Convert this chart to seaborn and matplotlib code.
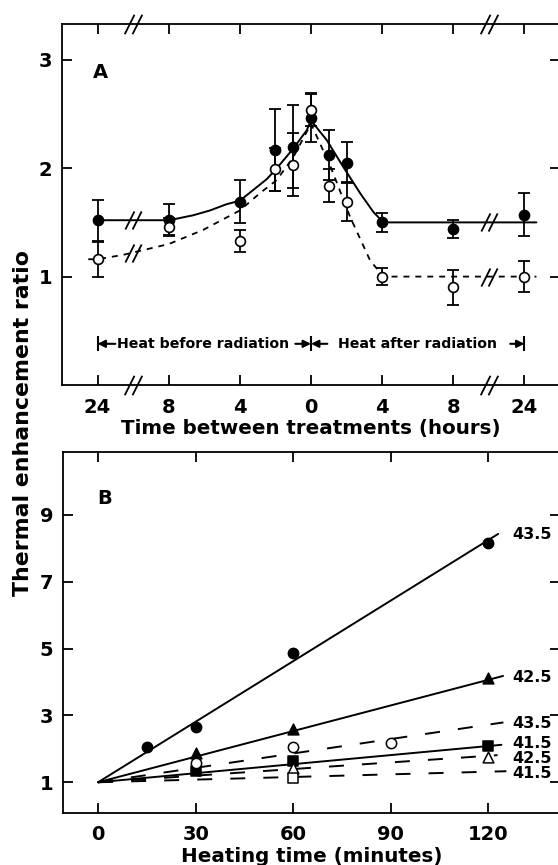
import matplotlib
matplotlib.use("Agg")
import matplotlib.pyplot as plt
from matplotlib.path import Path
import numpy as np
import seaborn as sns

# ---- panel A: thermal enhancement vs time between treatments ----
# negative hours = heat before radiation, positive = heat after
hours_a = [-24, -8, -4, -2, -1, 0, 1, 2, 4, 8, 24]
ter_closed = [1.52, 1.52, 1.69, 2.17, 2.20, 2.46, 2.12, 2.05, 1.50, 1.44, 1.57]
err_closed = [0.19, 0.15, 0.20, 0.38, 0.38, 0.22, 0.23, 0.19, 0.09, 0.08, 0.20]
ter_open = [1.16, 1.46, 1.33, 1.99, 2.03, 2.54, 1.84, 1.69, 1.00, 0.90, 1.00]
err_open = [0.16, 0.08, 0.10, 0.20, 0.29, 0.15, 0.15, 0.18, 0.08, 0.16, 0.14]

# hand-drawn fit curves
fit_solid_h = [-24.8, -8, -7.56, -6.64, -5.68, -4.76, -4, -3.24, -2.48, -1.92,
               -1.0, -0.24, 0, 0.88, 1.82, 2.76, 3.51, 4.07, 8, 24, 26.7]
fit_solid_y = [1.52, 1.52, 1.534, 1.565, 1.61, 1.667, 1.70, 1.80, 1.90, 2.00,
               2.18, 2.35, 2.44, 2.26, 2.01, 1.77, 1.595, 1.50, 1.50, 1.50, 1.50]
fit_dash_h = [-26.1, -24, -18.3, -8, -6.07, -4, -2.87, -1.93, -1.0, 0,
              1.11, 2.2, 3.32, 4.07, 8, 24, 26.7]
fit_dash_y = [1.16, 1.16, 1.20, 1.30, 1.43, 1.61, 1.77, 1.89, 2.10, 2.41,
              2.01, 1.55, 1.15, 1.00, 1.00, 1.00, 1.00]

tick_hours = [-24, -8, -4, 0, 4, 8, 24]
tick_labels_a = ["24", "8", "4", "0", "4", "8", "24"]

# ---- panel B: thermal enhancement vs heating time ----
b_series = [
    # label, x, y, marker, filled, dashed, line end x, line end y
    ("43.5", [15, 30, 60, 120], [2.04, 2.64, 4.88, 8.16], "o", True, False, 123.0, 8.43),
    ("42.5", [30, 60, 120], [1.87, 2.60, 4.13], "^", True, False, 124.5, 4.18),
    ("43.5", [30, 60, 90], [1.57, 2.06, 2.16], "o", False, True, 124.6, 2.79),
    ("41.5", [30, 60, 120], [1.34, 1.64, 2.08], "s", True, False, 124.0, 2.12),
    ("42.5", [60, 120], [1.42, 1.75], "^", False, True, 122.8, 1.81),
    ("41.5", [60], [1.12], "s", False, True, 125.5, 1.33),
]
b_label_y = [8.40, 4.13, 2.76, 2.16, 1.72, 1.27]


def hour_pos(h):
    # broken axis: 0-8 h linear (4 h per unit), 8-24 h squeezed into one unit
    h = np.asarray(h, dtype=float)
    a = np.abs(h)
    p = np.where(a <= 8, a / 4, 2 + (a - 8) / 16)
    return np.sign(h) * p


sns.set_style("ticks")
plt.rcParams["font.family"] = ["DejaVu Sans"]
plt.rcParams["font.weight"] = "bold"
plt.rcParams["axes.linewidth"] = 1.3
for key in ("text.color", "axes.labelcolor", "axes.edgecolor",
            "xtick.color", "ytick.color"):
    plt.rcParams[key] = "black"

fig = plt.figure(figsize=(5.58, 8.65), dpi=100)
ax_a = fig.add_axes([62 / 558, 1 - 385 / 865, 498 / 558, 361 / 865])
ax_b = fig.add_axes([63 / 558, 1 - 813 / 865, 497 / 558, 361 / 865])

brk = Path([(-0.9, -1), (0.1, 1), (-0.1, -1), (0.9, 1)],
           [Path.MOVETO, Path.LINETO, Path.MOVETO, Path.LINETO])

# panel A
xa = hour_pos(hours_a)
sns.lineplot(x=hour_pos(fit_solid_h), y=fit_solid_y, ax=ax_a, color="black",
             lw=1.4, sort=False, estimator=None, zorder=2)
sns.lineplot(x=hour_pos(fit_dash_h), y=fit_dash_y, ax=ax_a, color="black",
             lw=1.3, sort=False, estimator=None, linestyle=(0, (3.3, 3.3)), zorder=2)
ax_a.errorbar(xa, ter_closed, yerr=err_closed, fmt="none", ecolor="black",
              elinewidth=1.3, capsize=4.3, capthick=1.3, zorder=3)
ax_a.errorbar(xa, ter_open, yerr=err_open, fmt="none", ecolor="black",
              elinewidth=1.3, capsize=4.3, capthick=1.3, zorder=3)
sns.scatterplot(x=xa, y=ter_closed, ax=ax_a, marker="o", s=55, color="black",
                edgecolor="black", linewidth=1, zorder=4)
sns.scatterplot(x=xa, y=ter_open, ax=ax_a, marker="o", s=50, color="white",
                edgecolor="black", linewidth=1.2, zorder=5)

# break marks on the axis frame and on the curves
for bx in (-2.5, 2.5):
    for by in (0, 1):
        ax_a.plot([bx], [by], marker=brk, ms=14, mew=1.3, color="black",
                  transform=ax_a.get_xaxis_transform(), clip_on=False, zorder=6)
for bx, by in [(-2.5, 1.52), (2.5, 1.50), (-2.5, 1.22), (2.5, 1.00)]:
    ax_a.plot([bx], [by], marker=brk, ms=13, mew=1.3, color="black", zorder=6)

ax_a.set_xlim(-3.5, 3.5)
ax_a.set_ylim(0, 3.33)
ax_a.set_xticks(hour_pos(tick_hours))
ax_a.set_xticklabels(tick_labels_a)
ax_a.set_yticks([1, 2, 3])
ax_a.set_xlabel("Time between treatments (hours)", fontsize=14.3,
                fontweight="bold", labelpad=2)
ax_a.text(-3.07, 2.88, "A", fontsize=14, fontweight="bold", va="center")

# "heat before / after radiation" arrows
ya = 0.38
ax_a.vlines([-3, 0, 3], ya - 0.07, ya + 0.07, color="black", lw=1.5)
arrow = dict(arrowstyle="-|>", color="black", lw=1.5, mutation_scale=11,
             shrinkA=0, shrinkB=0)
for x0, x1 in [(-2.75, -3), (-0.22, 0), (0.23, 0), (2.80, 3)]:
    ax_a.annotate("", xy=(x1, ya), xytext=(x0, ya), arrowprops=arrow)
ax_a.text(-2.72, ya, "Heat before radiation", fontsize=10.2, fontweight="bold",
          va="center", ha="left")
ax_a.text(0.38, ya, "Heat after radiation", fontsize=10.2, fontweight="bold",
          va="center", ha="left")

# panel B
for (lab, bx, by, mk, filled, dashed, ex, ey), ly in zip(b_series, b_label_y):
    ls = (0, (7.7, 9.3)) if dashed else "-"
    sns.lineplot(x=[0, ex], y=[1, ey], ax=ax_b, color="black", lw=1.4,
                 linestyle=ls, estimator=None, zorder=2)
    sz = 60 if mk == "^" else 55
    if mk == "s":
        sz = 42
    sns.scatterplot(x=bx, y=by, ax=ax_b, marker=mk, s=sz,
                    color="black" if filled else "white", edgecolor="black",
                    linewidth=1.1, zorder=4 if filled else 5)
    ax_b.text(127.4, ly, lab, fontsize=11.5, fontweight="bold", va="center",
              ha="left")

ax_b.set_xlim(-10.8, 142)
ax_b.set_ylim(0.08, 10.88)
ax_b.set_xticks([0, 30, 60, 90, 120])
ax_b.set_yticks([1, 3, 5, 7, 9])
ax_b.set_xlabel("Heating time (minutes)", fontsize=14.3, fontweight="bold",
                labelpad=2)
ax_b.text(-0.3, 9.48, "B", fontsize=14, fontweight="bold", va="center")

for ax in (ax_a, ax_b):
    ax.tick_params(direction="in", length=7, width=1.3, top=True, right=True,
                   labelsize=14, pad=7)
    ax.tick_params(axis="x", pad=9)
    for t in ax.get_xticklabels() + ax.get_yticklabels():
        t.set_fontweight("bold")

fig.text(23 / 558, 1 - 423 / 865, "Thermal enhancement ratio", rotation=90,
         fontsize=15.8, fontweight="bold", ha="center", va="center")

fig.savefig("out.png", dpi=100)
